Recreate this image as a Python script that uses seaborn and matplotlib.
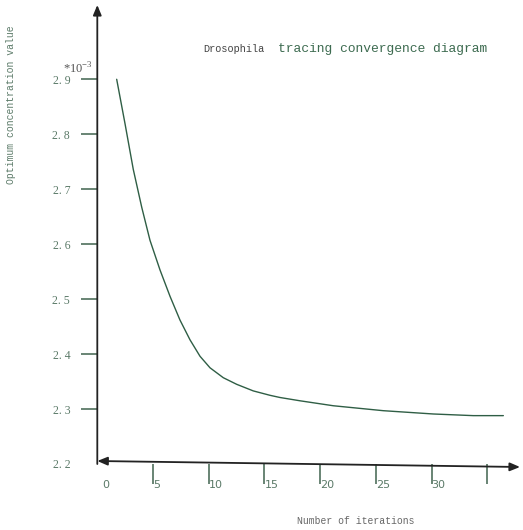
import matplotlib
matplotlib.use("Agg")
import matplotlib.pyplot as plt
import matplotlib.transforms as mtransforms
import seaborn as sns

# values
iters = [1.74, 2.49, 3.23, 3.99, 4.73, 5.63, 6.53, 7.42, 8.32, 9.22, 10.12,
         11.31, 12.51, 14.0, 15.5, 16.4, 18.2, 21.18, 25.67, 30.16, 33.75, 36.45]
conc = [2.900, 2.819, 2.736, 2.667, 2.607, 2.553, 2.505, 2.462, 2.426, 2.396,
        2.375, 2.357, 2.345, 2.333, 2.325, 2.321, 2.315, 2.306, 2.297, 2.291,
        2.288, 2.288]

x_ticks = [0, 5, 10, 15, 20, 25, 30, 35]
x_labels = ["0", "5", "10", "15", "20", "25", "30", ""]
y_ticks = [2.2, 2.3, 2.4, 2.5, 2.6, 2.7, 2.8, 2.9]
y_labels = ["2. 2", "2. 3", "2. 4", "2. 5", "2. 6", "2. 7", "2. 8", "2. 9"]

LINE = "#2f5e45"
TICK = "#4f6f5c"
LABEL = "#5b7a68"

sns.set_style("white")
plt.rcParams["font.family"] = ["Liberation Serif", "DejaVu Sans"]

W, H = 523, 530
fig = plt.figure(figsize=(W / 100, H / 100), dpi=100)
left, right, bottom, top = 97.3, 520, 464, 5
ax = fig.add_axes([left / W, (H - bottom) / H, (right - left) / W, (bottom - top) / H])
aw, ah = right - left, bottom - top

sns.lineplot(x=iters, y=conc, color=LINE, linewidth=1.0, ax=ax)

ax.set_xlim(0, aw / 11.14)
ax.set_ylim(2.2, 2.2 + ah / 549.6)
for s in ax.spines.values():
    s.set_visible(False)

# axis lines with arrow heads
ax.annotate("", xy=(0, 1), xytext=(0, 0), xycoords="axes fraction",
            arrowprops=dict(arrowstyle="-|>,head_length=0.6,head_width=0.25",
                            color="#222222", lw=1.3, shrinkA=0, shrinkB=0))
ax.annotate("", xy=(1, -3 / ah), xytext=(0, 3 / ah), xycoords="axes fraction",
            arrowprops=dict(arrowstyle="<|-|>,head_length=0.6,head_width=0.25",
                            color="#222222", lw=1.3, shrinkA=0, shrinkB=0))

ax.set_xticks(x_ticks)
ax.set_xticklabels(x_labels)
ax.set_yticks(y_ticks)
ax.set_yticklabels(y_labels)
ax.tick_params(axis="x", direction="out", length=14.4, width=1.2, color=TICK,
               pad=-3, labelsize=8, labelcolor=LABEL, bottom=True)
ax.tick_params(axis="y", direction="out", length=11.5, width=1.2, color=TICK,
               pad=8, labelsize=8.5, labelcolor=LABEL, left=True)
for lab in ax.get_xticklabels():
    lab.set_horizontalalignment("left")
    lab.set_fontfamily(["DejaVu Sans"])
ax.xaxis.get_major_ticks()[0].tick1line.set_visible(False)
ax.yaxis.get_major_ticks()[0].tick1line.set_visible(False)
lab0 = ax.get_xticklabels()[0]
lab0.set_transform(lab0.get_transform()
                   + mtransforms.ScaledTranslation(5 / 100, 0, fig.dpi_scale_trans))

ax.text(-4 / aw, (bottom - 69) / ah, r"*10$^{\mathregular{-3}}$",
        transform=ax.transAxes, ha="right", va="center", fontsize=9,
        color="#555555")

ax.set_ylabel("Optimum concentration value", fontsize=7, color=LABEL,
              fontfamily=["Liberation Mono"])
ax.yaxis.set_label_coords(-81 / aw, (bottom - 105) / ah)
ax.set_xlabel("Number of iterations", fontsize=7, color="#666666",
              fontfamily=["Liberation Mono"])
ax.xaxis.set_label_coords((356 - left) / aw, (bottom - 516) / ah)

ty = (bottom - 52) / ah
ax.text((203 - left) / aw, ty, "Drosophila", transform=ax.transAxes,
        ha="left", va="baseline", fontsize=7.4, color="#444444",
        fontfamily=["Liberation Mono"])
ax.text((278 - left) / aw, ty, "tracing convergence diagram",
        transform=ax.transAxes, ha="left", va="baseline", fontsize=9.4,
        color="#3d6b50", fontfamily=["Liberation Mono"])

fig.savefig("out.png", dpi=100)
